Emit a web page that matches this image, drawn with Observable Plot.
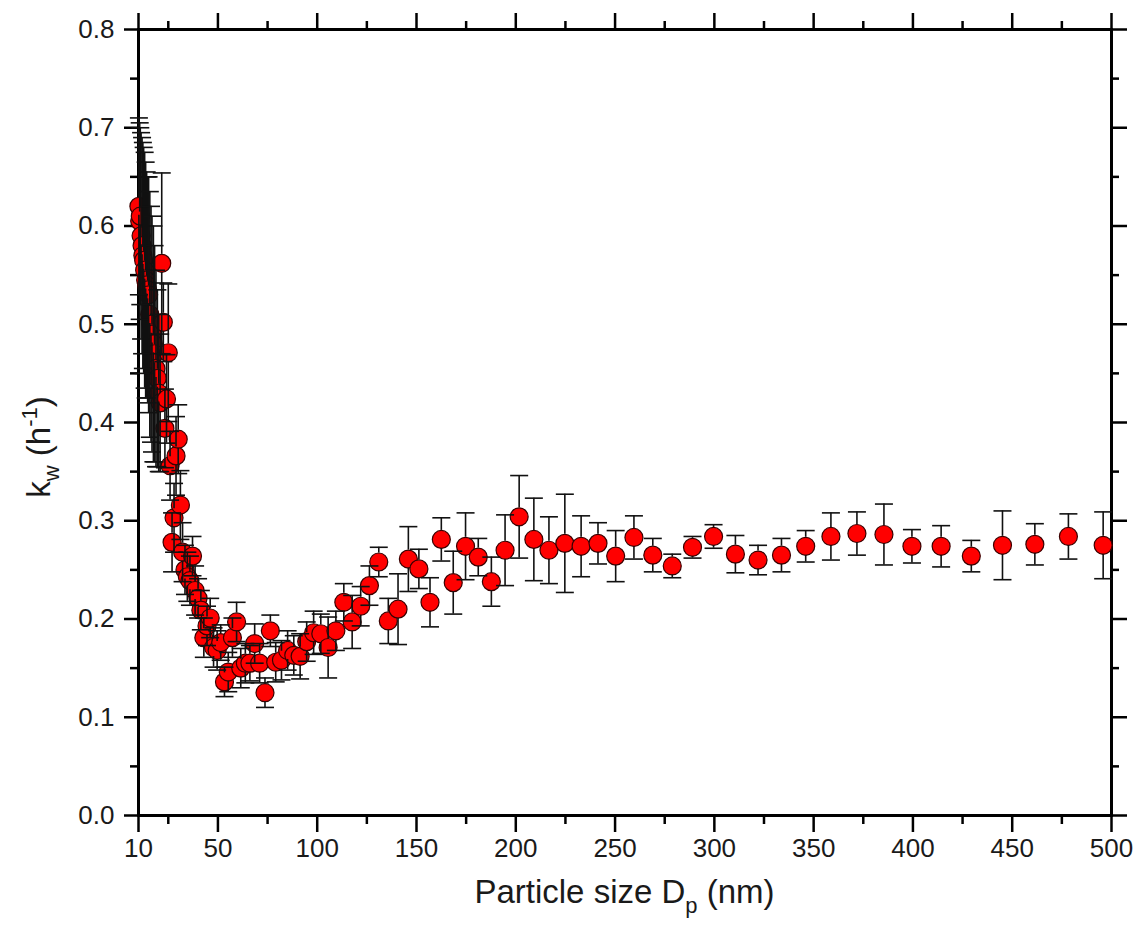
<!DOCTYPE html>
<html><head><meta charset="utf-8">
<script src="https://cdn.jsdelivr.net/npm/d3@7"></script>
<script src="https://cdn.jsdelivr.net/npm/@observablehq/plot@0.6"></script>
<style>body{margin:0;background:#fff}</style>
</head><body><div id="chart"></div>
<script>
// Particle size Dp (nm)
const sizes = [10.2,10.6,10.9,11.3,11.8,12.2,12.6,13.1,13.6,14.1,14.6,15.1,15.7,16.3,16.8,17.5,18.1,18.8,19.5,20.2,20.9,21.7,22.5,23.3,24.1,25.0,25.9,26.9,27.9,28.9,30.0,31.1,32.2,33.4,34.6,35.9,37.2,38.5,40.0,41.4,42.9,44.5,46.1,47.8,49.6,51.4,53.3,55.2,57.3,59.4,61.5,63.8,66.1,68.5,71.0,73.7,76.4,79.1,82.0,85.1,88.2,91.4,94.7,98.2,101.8,105.5,109.4,113.4,117.6,121.9,126.3,131.0,135.8,140.7,145.9,151.2,156.8,162.5,168.5,174.7,181.1,187.7,194.6,201.7,209.1,216.7,224.7,232.9,241.4,250.3,259.5,269.0,278.8,289.0,299.6,310.6,322.0,333.8,346.0,358.7,371.8,385.4,399.5,414.2,429.4,445.1,461.4,478.3,495.8];
// kw (h^-1)
const kw = [0.62,0.605,0.61,0.59,0.58,0.57,0.565,0.555,0.545,0.54,0.535,0.53,0.51,0.50,0.49,0.48,0.47,0.455,0.445,0.43,0.42,0.562,0.502,0.394,0.424,0.471,0.356,0.278,0.303,0.366,0.383,0.316,0.268,0.25,0.243,0.239,0.264,0.229,0.221,0.209,0.181,0.193,0.201,0.171,0.168,0.176,0.136,0.146,0.181,0.197,0.150,0.155,0.155,0.175,0.155,0.125,0.188,0.156,0.158,0.168,0.163,0.162,0.177,0.186,0.185,0.171,0.188,0.217,0.197,0.213,0.234,0.258,0.198,0.210,0.261,0.251,0.217,0.281,0.237,0.274,0.263,0.238,0.270,0.304,0.281,0.270,0.277,0.274,0.277,0.264,0.283,0.265,0.254,0.273,0.284,0.266,0.260,0.265,0.274,0.284,0.287,0.286,0.274,0.274,0.264,0.275,0.276,0.284,0.275];
// error (half-width)
const kwErr = [0.09,0.10,0.09,0.105,0.11,0.115,0.115,0.12,0.12,0.115,0.115,0.12,0.125,0.12,0.12,0.12,0.11,0.10,0.09,0.08,0.07,0.092,0.04,0.04,0.045,0.07,0.035,0.03,0.035,0.04,0.035,0.035,0.03,0.025,0.025,0.025,0.02,0.025,0.02,0.02,0.02,0.02,0.02,0.02,0.02,0.018,0.015,0.02,0.02,0.02,0.02,0.02,0.018,0.02,0.02,0.015,0.016,0.02,0.02,0.02,0.02,0.023,0.02,0.022,0.02,0.031,0.02,0.019,0.027,0.02,0.02,0.015,0.023,0.036,0.033,0.020,0.025,0.022,0.032,0.034,0.019,0.025,0.036,0.042,0.042,0.034,0.050,0.031,0.021,0.026,0.022,0.017,0.012,0.011,0.012,0.019,0.015,0.017,0.016,0.024,0.022,0.031,0.017,0.021,0.016,0.035,0.021,0.023,0.034];

const xMajor = [10,50,100,150,200,250,300,350,400,450,500];
const xMinor = [25,75,125,175,225,275,325,375,425,475];
const yMajor = [0,0.1,0.2,0.3,0.4,0.5,0.6,0.7,0.8];
const yMinor = [0.05,0.15,0.25,0.35,0.45,0.55,0.65,0.75];
const xDomain = [10, 500];
const yDomain = [0, 0.8];

const data = sizes.map((x, i) => ({x, y: kw[i], lo: kw[i] - kwErr[i], hi: kw[i] + kwErr[i]}));

const capSymbol = {draw(ctx, size) { const w = Math.sqrt(size / Math.PI); ctx.moveTo(-w, 0); ctx.lineTo(w, 0); }};

const font = 26;
const tickCol = "#000";
const txtCol = "#1a1a1a";
const R = 9;
const barCol = "#111";
const barW = 1.6;
const tw = 2.5;

const marks = [
  // tick labels (ticks themselves drawn as rules below)
  Plot.axisX({anchor: "bottom", ticks: xMajor, tickSize: 0, tickPadding: 23, fontSize: font, tickFormat: d3.format("d"), fill: txtCol, label: null}),
  Plot.axisY({anchor: "left", ticks: yMajor, tickSize: 0, tickPadding: 24, fontSize: font, tickFormat: d3.format(".1f"), fill: txtCol, label: null}),
  // outward ticks on all four sides
  Plot.ruleX(xMajor, {x: d => d, y1: yDomain[0], y2: yDomain[0], insetBottom: -17, stroke: tickCol, strokeWidth: tw}),
  Plot.ruleX(xMinor, {x: d => d, y1: yDomain[0], y2: yDomain[0], insetBottom: -9, stroke: tickCol, strokeWidth: tw}),
  Plot.ruleX(xMajor, {x: d => d, y1: yDomain[1], y2: yDomain[1], insetTop: -16, stroke: tickCol, strokeWidth: tw}),
  Plot.ruleX(xMinor, {x: d => d, y1: yDomain[1], y2: yDomain[1], insetTop: -8, stroke: tickCol, strokeWidth: tw}),
  Plot.ruleY(yMajor, {y: d => d, x1: xDomain[0], x2: xDomain[0], insetLeft: -14, stroke: tickCol, strokeWidth: tw}),
  Plot.ruleY(yMinor, {y: d => d, x1: xDomain[0], x2: xDomain[0], insetLeft: -8, stroke: tickCol, strokeWidth: tw}),
  Plot.ruleY(yMajor, {y: d => d, x1: xDomain[1], x2: xDomain[1], insetRight: -16, stroke: tickCol, strokeWidth: tw}),
  Plot.ruleY(yMinor, {y: d => d, x1: xDomain[1], x2: xDomain[1], insetRight: -8, stroke: tickCol, strokeWidth: tw}),
  Plot.frame({stroke: "#000", strokeWidth: 3}),
  // symbols first
  Plot.dot(data, {x: "x", y: "y", r: R, fill: "#ff0000", stroke: "#3a0000", strokeWidth: 1.2}),
  // error bars on top, not passing through the symbol
  Plot.ruleX(data, {x: "x", y1: "hi", y2: "y", insetBottom: R, stroke: barCol, strokeWidth: barW}),
  Plot.ruleX(data, {x: "x", y1: "y", y2: "lo", insetTop: R, stroke: barCol, strokeWidth: barW}),
  Plot.dot(data, {x: "x", y: "hi", symbol: capSymbol, r: R, fill: "none", stroke: barCol, strokeWidth: barW}),
  Plot.dot(data, {x: "x", y: "lo", symbol: capSymbol, r: R, fill: "none", stroke: barCol, strokeWidth: barW})
];

const svg = Plot.plot({
  width: 1139,
  height: 931,
  marginLeft: 138,
  marginRight: 28,
  marginTop: 29,
  marginBottom: 116,
  style: {fontFamily: "Liberation Sans, Arial, sans-serif", background: "#fff", overflow: "visible"},
  x: {domain: xDomain, label: null},
  y: {domain: yDomain, label: null},
  marks
});

const s = d3.select(svg);

const xt = s.append("text")
  .attr("x", 624.5).attr("y", 903)
  .attr("text-anchor", "middle")
  .attr("font-size", 33).attr("fill", txtCol)
  .attr("font-family", "Liberation Sans, Arial, sans-serif");
xt.append("tspan").text("Particle size D");
xt.append("tspan").attr("font-size", 22).attr("dy", 10).text("p");
xt.append("tspan").attr("dy", -10).text(" (nm)");

const yt = s.append("text")
  .attr("transform", "translate(50,447) rotate(-90)")
  .attr("text-anchor", "middle")
  .attr("font-size", 33).attr("fill", txtCol)
  .attr("font-family", "Liberation Sans, Arial, sans-serif");
yt.append("tspan").text("k");
yt.append("tspan").attr("font-size", 22).attr("dy", 9).text("w");
yt.append("tspan").attr("dy", -9).text(" (h");
yt.append("tspan").attr("font-size", 22).attr("dy", -13).text("-1");
yt.append("tspan").attr("dy", 13).text(")");

document.getElementById("chart").appendChild(svg);
</script></body></html>
